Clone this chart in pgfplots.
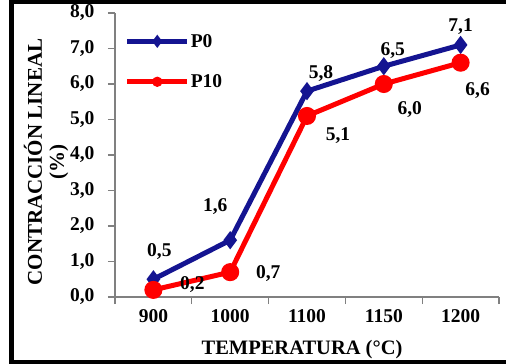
\documentclass[border=0pt]{standalone}
\usepackage{pgfplots}
\pgfplotsset{compat=1.18}
\usepackage{pgfplotstable}
\usepackage{fontspec}
\setmainfont{Liberation Serif}

\definecolor{azul}{RGB}{20,20,145}
\definecolor{rojo}{RGB}{255,0,0}
\definecolor{eje}{RGB}{128,128,128}

% contraccion lineal (%) por temperatura; dx, dy: desplazamiento de la etiqueta
\pgfplotstableread{
x y dx dy
1 0.5 6 28
2 1.6 -15 34
3 5.8 14 18
4 6.5 9 16
5 7.1 0 18
}\pzero
\pgfplotstableread{
x y dx dy
1 0.2 39 5
2 0.7 38 -1
3 5.1 31 -20
4 6.0 26 -26
5 6.6 17 -28
}\pdiez

\newcommand\lbl{\bfseries\fontsize{19.5}{21}\selectfont}

\begin{document}
\begin{tikzpicture}
\path[use as bounding box] (-115pt,-67pt) rectangle (391pt,297pt);
\begin{axis}[
  scale only axis, width=384pt, height=284pt,
  xmin=0.5, xmax=5.5, ymin=0, ymax=8,
  clip=false,
  axis x line*=bottom, axis y line*=left,
  axis line style={eje, line width=1.3pt},
  every tick/.style={eje, line width=1.3pt},
  tick align=outside, major tick length=7pt,
  xtick={0.5,1.5,...,5.5}, xticklabels={,,,,,},
  extra x ticks={1,2,3,4,5},
  extra x tick labels={900,1000,1100,1150,1200},
  extra x tick style={major tick length=0pt},
  ytick={0,1,...,8},
  /pgf/number format/assume math mode=true,
  /pgf/number format/use comma,
  /pgf/number format/fixed,
  /pgf/number format/fixed zerofill,
  /pgf/number format/precision=1,
  ticklabel style={font=\lbl, text=black},
  yticklabel style={xshift=-10pt},
  xticklabel style={yshift=-9pt},
  xlabel={TEMPERATURA (°C)},
  xlabel style={font=\bfseries\fontsize{20.5}{22}\selectfont, at={(axis description cs:0.487,-0.1866)}, anchor=center},
  ylabel={CONTRACCIÓN LINEAL\\(\%)},
  ylabel style={font=\bfseries\fontsize{21}{22}\selectfont, align=center, at={(axis description cs:-0.1797,0.475)}, anchor=center},
  legend image code/.code={\draw[mark repeat=2,mark phase=2,#1] plot coordinates {(0pt,0pt) (30pt,0pt) (60pt,0pt)};},
  legend image post style={mark size=2.5pt},
  legend style={draw=none, fill=none, at={(axis description cs:0.025,0.93)}, anchor=north west, font=\lbl, row sep=24pt, inner sep=0pt, nodes={inner sep=1pt}},
  legend cell align=left,
]
\addplot[azul, line width=5pt, mark=diamond*, mark size=5pt,
  nodes near coords, point meta=y,
  visualization depends on={\thisrow{dx}\as\dx},
  visualization depends on={\thisrow{dy}\as\dy},
  nodes near coords style={font=\lbl, text=black, anchor=center, xshift=\dx pt, yshift=\dy pt}]
  table[x=x,y=y] {\pzero};
\addplot[rojo, line width=5pt, mark=*, mark size=6.5pt,
  nodes near coords, point meta=y,
  visualization depends on={\thisrow{dx}\as\dx},
  visualization depends on={\thisrow{dy}\as\dy},
  nodes near coords style={font=\lbl, text=black, anchor=center, xshift=\dx pt, yshift=\dy pt}]
  table[x=x,y=y] {\pdiez};
\legend{P0,P10}
\end{axis}
\draw[black, line width=5pt, line join=miter] (400pt,295.5pt) -- (-103pt,295.5pt) -- (-103pt,-65.5pt) -- (400pt,-65.5pt);
\end{tikzpicture}
\end{document}
